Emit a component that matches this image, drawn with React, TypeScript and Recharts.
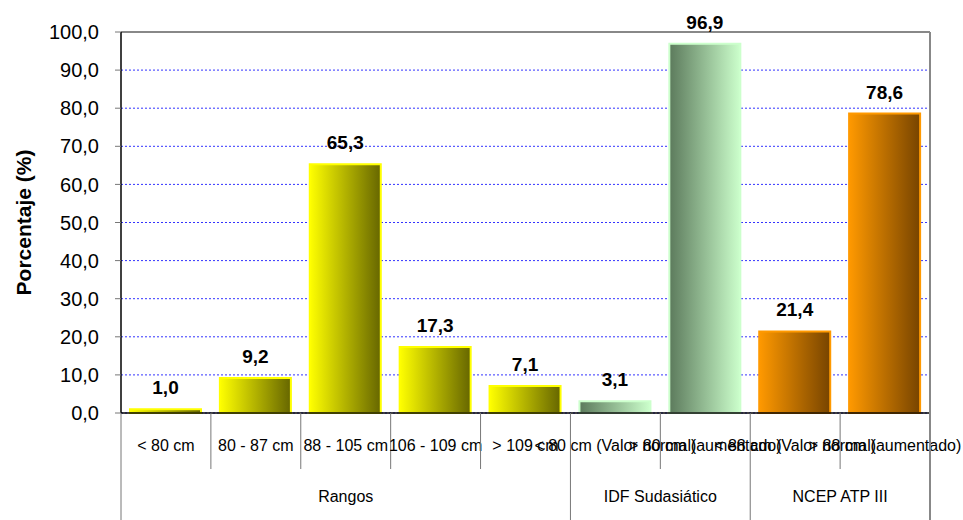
import React from 'react';
import { BarChart, Bar, XAxis, YAxis, CartesianGrid, ReferenceLine, LabelList, Cell } from 'recharts';

const categories = [
  '< 80 cm',
  '80 - 87 cm',
  '88 - 105 cm',
  '106 - 109 cm',
  '> 109 cm',
  '< 80 cm (Valor normal)',
  '> 80 cm (aumentado)',
  '< 88 cm (Valor normal)',
  '> 88 cm (aumentado)',
];
const values = [1.0, 9.2, 65.3, 17.3, 7.1, 3.1, 96.9, 21.4, 78.6];
const barGroup = ['yellow', 'yellow', 'yellow', 'yellow', 'yellow', 'green', 'green', 'orange', 'orange'];
const groupNames = ['Rangos', 'IDF Sudasiático', 'NCEP ATP III'];
const groupSizes = [5, 2, 2];
const yTicks = [0, 10, 20, 30, 40, 50, 60, 70, 80, 90, 100];

const W = 963;
const H = 520;
const LEFT = 121;
const RIGHT = 33;
const TOP = 32;
const XAXIS_H = 107;
const PLOT_BOTTOM = H - XAXIS_H;
const BAND = (W - LEFT - RIGHT) / categories.length;
const FONT = '"Liberation Sans", Arial, sans-serif';

const palette: Record<string, { from: string; to: string; stroke: string }> = {
  yellow: { from: '#ffff00', to: '#666600', stroke: '#ffff00' },
  green: { from: '#5c7a5c', to: '#ccffcc', stroke: '#ccffcc' },
  orange: { from: '#ff9900', to: '#774400', stroke: '#ff9900' },
};

const data = categories.map((name, i) => ({ name, value: values[i], group: barGroup[i] }));

const fmt = (v: number) => v.toFixed(1).replace('.', ',');

const groupStarts = groupSizes.map((_, i) => groupSizes.slice(0, i).reduce((a, b) => a + b, 0));

const CategoryTick = (props: any) => {
  const { x, payload } = props;
  const i = payload.index;
  const left = x - BAND / 2;
  const g = groupStarts.indexOf(i);
  const isStart = g >= 0;
  return (
    <g>
      <line x1={left} x2={left} y1={PLOT_BOTTOM} y2={isStart ? H : 469} stroke="#777" strokeWidth={1} />
      <text x={x} y={451} textAnchor="middle" fontSize={16} fontFamily={FONT} fill="#000">
        {payload.value}
      </text>
      {isStart && (
        <text x={left + (groupSizes[g] * BAND) / 2} y={502} textAnchor="middle" fontSize={16} fontFamily={FONT} fill="#000">
          {groupNames[g]}
        </text>
      )}
      {i === categories.length - 1 && (
        <line x1={x + BAND / 2} x2={x + BAND / 2} y1={TOP} y2={H} stroke="#888" strokeWidth={2} />
      )}
    </g>
  );
};

const ValueLabel = (props: any) => {
  const { x, y, width, value } = props;
  return (
    <text x={x + width / 2} y={y - 15} textAnchor="middle" fontSize={19} fontWeight="bold" fontFamily={FONT} fill="#000">
      {fmt(value)}
    </text>
  );
};

export default function App() {
  return (
    <div style={{ position: 'absolute', left: 0, top: 0, background: '#fff' }}>
      <BarChart
        width={W}
        height={H}
        data={data}
        margin={{ top: TOP, right: RIGHT, left: 0, bottom: 0 }}
        barCategoryGap={0}
      >
        <defs>
          {Object.keys(palette).map((k) => (
            <linearGradient key={k} id={`grad-${k}`} x1="0" y1="0" x2="1" y2="0">
              <stop offset="0%" stopColor={palette[k].from} />
              <stop offset="100%" stopColor={palette[k].to} />
            </linearGradient>
          ))}
        </defs>
        <CartesianGrid vertical={false} stroke="#3333ff" strokeDasharray="2 2" strokeWidth={1} />
        <XAxis
          dataKey="name"
          interval={0}
          height={XAXIS_H}
          tickLine={false}
          axisLine={{ stroke: '#000', strokeWidth: 1.5 }}
          tick={<CategoryTick />}
        />
        <YAxis
          width={LEFT}
          domain={[0, 100]}
          ticks={yTicks}
          tickFormatter={fmt}
          tickSize={6}
          tickMargin={16}
          tickLine={{ stroke: '#777' }}
          axisLine={{ stroke: '#000', strokeWidth: 1.5 }}
          tick={{ fontSize: 20, fontFamily: FONT, fill: '#000' }}
          label={{
            value: 'Porcentaje (%)',
            angle: -90,
            position: 'insideLeft',
            offset: 24,
            style: { fontSize: 21, fontWeight: 'bold', fontFamily: FONT, fill: '#000', textAnchor: 'middle' },
          }}
        />
        <ReferenceLine y={100} stroke="#888" strokeWidth={2} />
        <Bar dataKey="value" barSize={71} isAnimationActive={false} strokeWidth={2}>
          {data.map((d, i) => (
            <Cell key={`c-${i}`} fill={`url(#grad-${d.group})`} stroke={palette[d.group].stroke} />
          ))}
          <LabelList dataKey="value" content={<ValueLabel />} />
        </Bar>
      </BarChart>
    </div>
  );
}
